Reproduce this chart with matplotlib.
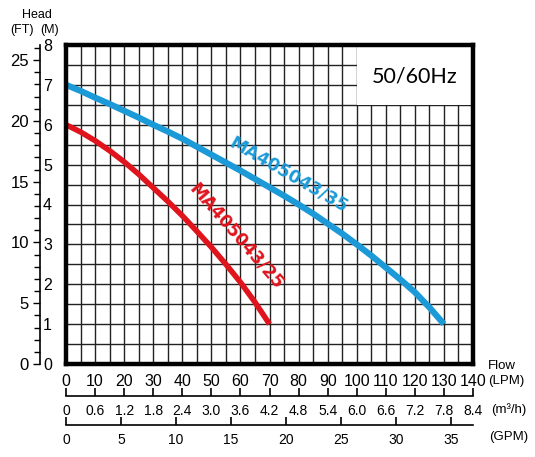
import numpy as np
import matplotlib.pyplot as plt
from matplotlib.patches import Rectangle

plt.rcParams['font.family'] = ['Liberation Sans', 'DejaVu Sans']

# flow (LPM) vs head (M)
flow_a = [0, 5, 10, 15, 20, 25, 30, 35, 40, 45, 50, 55, 60, 65, 70, 75, 80, 85, 90,
          95, 100, 105, 110, 115, 120, 125, 130]
head_a = [7.0, 6.85, 6.68, 6.52, 6.35, 6.18, 6.0, 5.83, 5.65, 5.45, 5.25, 5.05, 4.85,
          4.64, 4.43, 4.22, 4.0, 3.77, 3.52, 3.27, 3.0, 2.72, 2.42, 2.12, 1.8, 1.42, 1.0]
flow_b = [0, 5, 10, 15, 20, 25, 30, 35, 40, 45, 50, 55, 60, 65, 70]
head_b = [6.0, 5.82, 5.6, 5.35, 5.07, 4.76, 4.42, 4.08, 3.72, 3.33, 2.93, 2.5, 2.05, 1.55, 1.0]
name_a = 'MA405043/35'
name_b = 'MA405043/25'

lpm_ticks = list(range(0, 141, 10))
m_ticks = list(range(0, 9))
ft_ticks = [0, 5, 10, 15, 20, 25]
m3h_labels = ['0', '0.6', '1.2', '1.8', '2.4', '3.0', '3.6', '4.2', '4.8',
              '5.4', '6.0', '6.6', '7.2', '7.8', '8.4']
gpm_ticks = [0, 5, 10, 15, 20, 25, 30, 35]

blue = '#1c9ad8'
red = '#e0141c'
W, H = 535, 457

fig = plt.figure(figsize=(W / 100, H / 100), dpi=100)
ax = fig.add_axes([66 / W, 1 - 364 / H, 407 / W, 319 / H])
ax.set_xlim(0, 140)
ax.set_ylim(0, 8)

# grid every 5 LPM / 0.5 M
for x in np.arange(5, 140, 5):
    ax.axvline(x, color='#222222', lw=1.0, zorder=1)
for y in np.arange(0.5, 8, 0.5):
    ax.axhline(y, color='#222222', lw=1.0, zorder=1)

# white box for the frequency label
ax.add_patch(Rectangle((100, 6.5), 40, 1.5, facecolor='white', edgecolor='none', zorder=2))
ax.text(120, 7.22, '50/60Hz', fontsize=15.5, family=['Lato', 'DejaVu Sans'],
        ha='center', va='center', zorder=3)

ax.plot(flow_a, head_a, color=blue, lw=4.5, solid_capstyle='butt', solid_joinstyle='round', zorder=4)
ax.plot(flow_b, head_b, color=red, lw=4.0, solid_capstyle='butt', solid_joinstyle='round', zorder=4)
ax.text(76.5, 4.75, name_a, color=blue, fontsize=12.5, fontweight='bold', rotation=-30,
        family='DejaVu Sans', ha='center', va='center', rotation_mode='anchor', zorder=5)
ax.text(58.5, 3.2, name_b, color=red, fontsize=12.5, fontweight='bold', rotation=-49,
        family='DejaVu Sans', ha='center', va='center', rotation_mode='anchor', zorder=5)

for s in ax.spines.values():
    s.set_linewidth(3.2)
    s.set_zorder(6)

ax.set_xticks(lpm_ticks)
ax.set_yticks(m_ticks)
ax.tick_params(axis='both', length=0, labelsize=11.5)
ax.tick_params(axis='x', pad=7)
ax.tick_params(axis='y', pad=10)

# feet scale on the left
ft = ax.secondary_yaxis((40 - 66) / 407, functions=(lambda m: m / 0.3048, lambda f: f * 0.3048))
ft.set_yticks(ft_ticks)
ft.set_yticks(range(0, 27), minor=True)
ft.tick_params(axis='y', which='major', length=5, width=1, labelsize=12, pad=3)
ft.tick_params(axis='y', which='minor', length=4, width=1)
ft.spines['left'].set_linewidth(1.2)

# m3/h scale
m3h = ax.secondary_xaxis((364 - 396) / 319, functions=(lambda q: q * 0.06, lambda v: v / 0.06))
m3h.set_xticks([t * 0.06 for t in lpm_ticks], m3h_labels)
m3h.tick_params(axis='x', direction='in', length=6, width=1.2, labelsize=10, pad=6)
m3h.spines['bottom'].set_linewidth(1.2)

# GPM scale
gpm = ax.secondary_xaxis((364 - 425) / 319, functions=(lambda q: q / 3.785, lambda g: g * 3.785))
gpm.set_xticks(gpm_ticks)
gpm.tick_params(axis='x', direction='in', length=6, width=1.2, labelsize=10, pad=6)
gpm.spines['bottom'].set_linewidth(1.2)

def label(x, y, s, size=9, ha='center'):
    fig.text(x / W, 1 - y / H, s, fontsize=size, ha=ha, va='center')

label(37, 15, 'Head', 9)
label(22, 30, '(FT)', 9)
label(50, 30, '(M)', 9)
label(502, 366, 'Flow', 9.5)
label(506, 381, '(LPM)', 9.5)
label(509, 410, '(m³/h)', 9.5)
label(509, 437, '(GPM)', 9.5)

fig.savefig('out.png', dpi=100)
